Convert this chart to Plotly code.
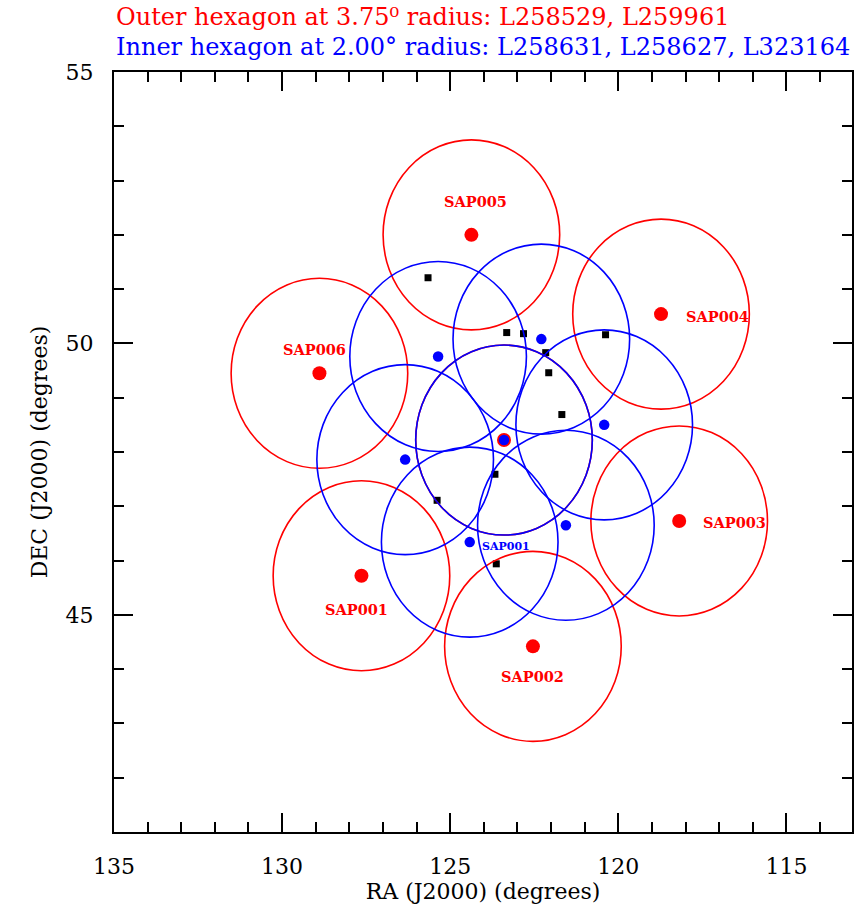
import numpy as np
import plotly.graph_objects as go

# ---------------- data ----------------
center_ra = [123.40]
center_dec = [48.22]

outer_names = ["SAP001", "SAP002", "SAP003", "SAP004", "SAP005", "SAP006"]
outer_ra = [127.64, 122.54, 118.19, 118.73, 124.37, 128.89]
outer_dec = [45.72, 44.42, 46.73, 50.54, 52.00, 49.45]

inner_names = ["SAP001", "SAP002", "SAP003", "SAP004", "SAP005", "SAP006"]
inner_ra = [124.42, 121.56, 120.42, 122.29, 125.36, 126.34]
inner_dec = [46.34, 46.65, 48.50, 50.08, 49.76, 47.86]

src_ra = [125.66, 123.32, 122.82, 120.38, 122.16, 122.07, 121.68, 123.67, 125.39, 123.63]
src_dec = [51.21, 50.20, 50.18, 50.16, 49.83, 49.46, 48.69, 47.59, 47.11, 45.94]

beam_radius = 1.75  # degrees (Dec)

x_ticks = [135, 130, 125, 120, 115]
y_ticks = [45, 50, 55]

title_outer = "Outer hexagon at 3.75\u2070 radius: L258529, L259961"
title_inner = "Inner hexagon at 2.00\u00b0 radius: L258631, L258627, L323164"

RED = "#ff0000"
BLUE = "#0000ff"
FONT = "DejaVu Serif"

fig = go.Figure()

# beams as ellipses (RA stretched by 1/cos(dec))
a_ra = beam_radius / np.cos(np.radians(center_dec[0]))
shapes = []
for ra, dec in zip(outer_ra + center_ra, outer_dec + center_dec):
    shapes.append(dict(type="circle", xref="x", yref="y",
                       x0=ra - a_ra, x1=ra + a_ra,
                       y0=dec - beam_radius, y1=dec + beam_radius,
                       line=dict(color=RED, width=1.6), layer="above"))
for ra, dec in zip(inner_ra + center_ra, inner_dec + center_dec):
    shapes.append(dict(type="circle", xref="x", yref="y",
                       x0=ra - a_ra, x1=ra + a_ra,
                       y0=dec - beam_radius, y1=dec + beam_radius,
                       line=dict(color=BLUE, width=1.6), layer="above"))

fig.add_trace(go.Scatter(x=outer_ra + center_ra, y=outer_dec + center_dec,
                         mode="markers", marker=dict(color=RED, size=14),
                         hoverinfo="skip", showlegend=False))
fig.add_trace(go.Scatter(x=inner_ra + center_ra, y=inner_dec + center_dec,
                         mode="markers", marker=dict(color=BLUE, size=10.5),
                         hoverinfo="skip", showlegend=False))
fig.add_trace(go.Scatter(x=src_ra, y=src_dec, mode="markers",
                         marker=dict(color="black", size=7, symbol="square"),
                         hoverinfo="skip", showlegend=False))

# labels (offsets in pixels)
offsets = [(-5, -34), (0, -30), (55, -2), (56, -2), (4, 33), (-5, 24)]
annotations = []
for name, ra, dec, (dx, dy) in zip(outer_names, outer_ra, outer_dec, offsets):
    annotations.append(dict(x=ra, y=dec, xref="x", yref="y", text="<b>" + name + "</b>",
                            showarrow=False, xshift=dx, yshift=dy,
                            font=dict(family=FONT, size=14.5, color=RED)))
annotations.append(dict(x=inner_ra[0], y=inner_dec[0], xref="x", yref="y",
                        text="<b>" + inner_names[0] + "</b>", showarrow=False,
                        xanchor="left", xshift=10, yshift=-4,
                        font=dict(family=FONT, size=11, color=BLUE)))
annotations.append(dict(x=0, y=1.0728, xref="paper", yref="paper", text=title_outer,
                        showarrow=False, xanchor="left", yanchor="middle",
                        font=dict(family=FONT, size=24, color=RED)))
annotations.append(dict(x=0, y=1.0333, xref="paper", yref="paper", text=title_inner,
                        showarrow=False, xanchor="left", yanchor="middle",
                        font=dict(family=FONT, size=24, color=BLUE)))

axis_common = dict(showgrid=False, zeroline=False, showline=True, linecolor="black",
                   linewidth=2, mirror="allticks", ticks="inside", ticklen=19,
                   tickwidth=1.5, tickcolor="black",
                   tickfont=dict(family=FONT, size=22, color="black"),
                   minor=dict(ticks="inside", ticklen=10, tickwidth=1.5,
                              tickcolor="black", dtick=1, showgrid=False))

fig.update_layout(
    width=856, height=908,
    margin=dict(l=114, r=2, t=72, b=76),
    paper_bgcolor="white", plot_bgcolor="white",
    shapes=shapes, annotations=annotations,
    xaxis=dict(range=[135, 113.05], tickvals=x_ticks, ticktext=[str(v) for v in x_ticks],
               title=dict(text="RA (J2000) (degrees)",
                          font=dict(family=FONT, size=22, color="black"),
                          standoff=4),
               ticklabelstandoff=14, **axis_common),
    yaxis=dict(range=[41, 55], tickvals=y_ticks, ticktext=[str(v) for v in y_ticks],
               title=dict(text="DEC (J2000) (degrees)",
                          font=dict(family=FONT, size=22, color="black"),
                          standoff=12),
               ticklabelstandoff=14, **axis_common),
)

fig.write_html("out.html")
